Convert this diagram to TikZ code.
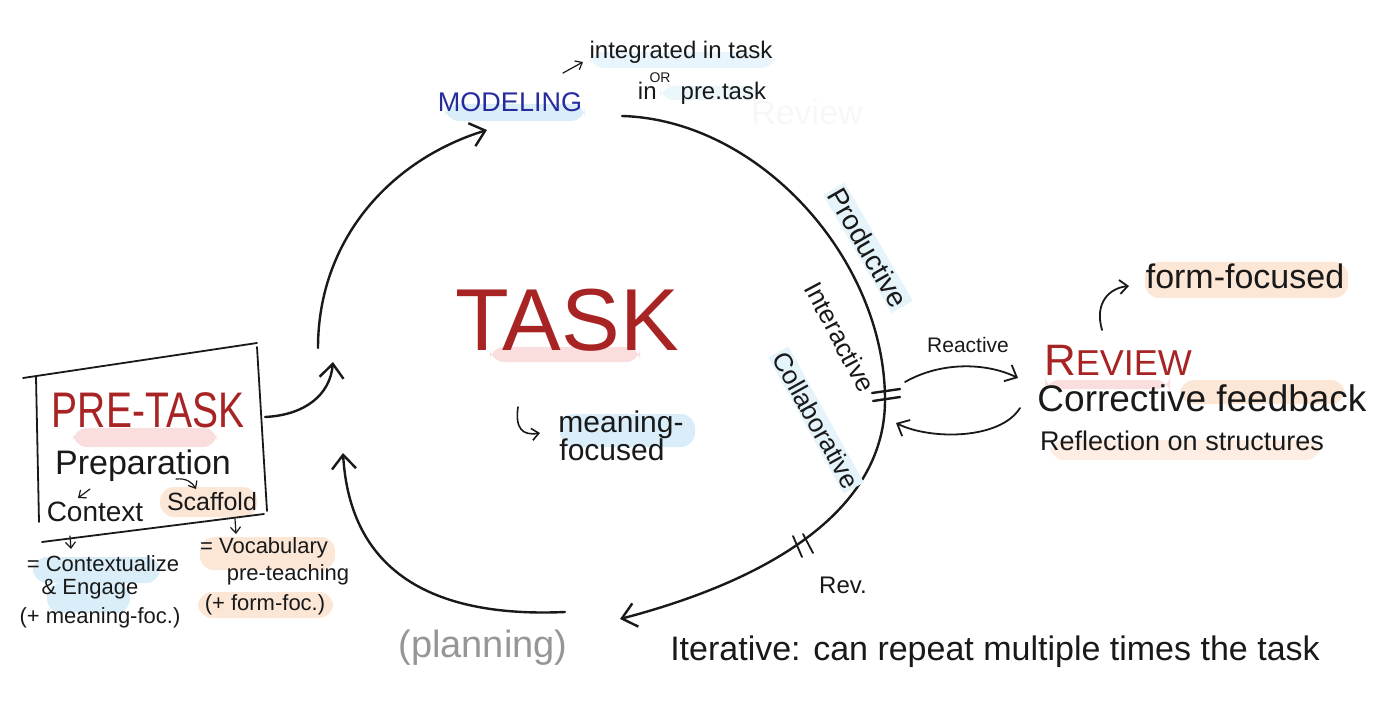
\documentclass[tikz,border=0pt]{standalone}
\usepackage{graphicx}
\usepackage{fontspec}
\setmainfont{Liberation Sans}
\usetikzlibrary{arrows.meta}
\definecolor{taskred}{RGB}{168,36,36}
\definecolor{modblue}{RGB}{38,44,158}
\definecolor{ink}{RGB}{25,25,25}
\definecolor{hlblue}{RGB}{218,238,250}
\definecolor{hlpink}{RGB}{250,222,222}
\definecolor{hlorange}{RGB}{252,230,214}
\definecolor{plangray}{RGB}{150,150,150}
\newcommand\fsz[1]{\fontsize{#1}{#1}\selectfont}
\begin{document}
\begin{tikzpicture}[x=0.5pt,y=-0.5pt,
  txt/.style={inner sep=0pt, anchor=center, text=ink},
  arcline/.style={line width=1.2pt, line cap=round, draw=ink},
  bigtip/.style={-{Straight Barb[length=7pt,width=12pt,line width=1.2pt]}},
  smalltip/.style={-{Straight Barb[length=3pt,width=5pt,line width=0.6pt]}},
  thinline/.style={line width=0.6pt, line cap=round, draw=ink},
  boxline/.style={line width=0.9pt, line cap=round, draw=ink},
  hl/.style={rounded corners=7pt, draw=none}]
\useasboundingbox (0,0) rectangle (1400,716);

% ---------- highlights ----------
\fill[hl, hlblue] (445,104) rectangle (585,121);
\fill[hl, hlblue!60] (590,52) rectangle (775,68);
\fill[hl, hlblue!50] (660,86) rectangle (760,100);
\fill[hl, hlpink] (490,347) rectangle (640,362);
\fill[hl, hlblue] (560,414) rectangle (695,447);
\fill[hl, hlpink] (1045,380) rectangle (1170,389);
\fill[hl, hlorange] (1145,262) rectangle (1348,298);
\fill[hl, hlorange] (1180,380) rectangle (1345,404);
\fill[hl, hlorange!70] (1050,440) rectangle (1320,460);
\fill[hl, hlpink] (73,428) rectangle (217,447);
\fill[hl, hlorange] (160,487) rectangle (257,517);
\fill[hl, hlblue] (33,557) rectangle (160,583);
\fill[hl, hlblue] (47,583) rectangle (130,613);
\fill[hl, hlorange] (200,537) rectangle (335,570);
\fill[hl, hlorange] (198,592) rectangle (333,618);

% ---------- ghost text ----------
\node[txt, text=black!3, font=\fsz{17}] (ghost) at (807,112) {Review};

% ---------- cycle coordinates ----------
\coordinate (aS) at (318,348);
\coordinate (aE) at (487,130);
\coordinate (bS) at (622,116);
\coordinate (bM) at (885,400);
\coordinate (bE) at (620,619);
\coordinate (cS) at (565,612);
\coordinate (cE) at (343,453);
\coordinate (pS) at (265,417);
\coordinate (pE) at (333,362);

% ---------- cycle arcs ----------
\draw[arcline, bigtip] (aS) .. controls (318,240) and (390,160) .. (aE);
\draw[arcline] (bS) .. controls (760,120) and (885,260) .. (bM);
\draw[arcline, bigtip] (bM) .. controls (885,520) and (750,585) .. (bE);
\draw[arcline, bigtip] (cS) .. controls (430,618) and (350,570) .. (cE);
\draw[arcline, bigtip] (pS) .. controls (305,415) and (330,395) .. (pE);

% double ticks
\coordinate (t1a) at (872,393); \coordinate (t1b) at (900,389);
\coordinate (t2a) at (873,401); \coordinate (t2b) at (900,397);
\draw[arcline] (t1a) -- (t1b);
\draw[arcline] (t2a) -- (t2b);
\coordinate (t3a) at (793,536); \coordinate (t3b) at (802,557);
\coordinate (t4a) at (803,534); \coordinate (t4b) at (813,553);
\draw[thinline, line width=0.9pt] (t3a) -- (t3b);
\draw[thinline, line width=0.9pt] (t4a) -- (t4b);

% ---------- top: modeling ----------
\node[txt, text=modblue, font=\fsz{13.5}] (modeling) at (510,102) {MODELING};
\node[txt, font=\fsz{12}] (integ) at (681,52) {integrated in task};
\node[txt, font=\fsz{7}] (orw) at (660,78) {OR};
\node[txt, font=\fsz{12}] (inpre) at (702,93) {in\hspace{1em}pre.task};
\coordinate (mA) at (563,73);
\coordinate (mB) at (583,62);
\draw[thinline, smalltip] (mA) -- (mB);

% ---------- centre: task ----------
\node[txt, text=taskred, font=\fsz{44}] (task) at (567,320) {TASK};
\node[txt, font=\fsz{15}] (meaning) at (621,425) {meaning-};
\node[txt, font=\fsz{15}] (focused) at (612,450) {focused};
\coordinate (hA) at (518,407);
\coordinate (hB) at (540,433);
\draw[thinline, line width=0.8pt, -{Straight Barb[length=3.5pt,width=6pt,line width=0.8pt]}] (hA) .. controls (515,428) and (522,436) .. (hB);

% ---------- arc labels ----------
\node[txt, font=\fsz{14}, rotate=-60, fill=hlblue!70, inner sep=1pt] (productive) at (868,248) {Productive};
\node[txt, font=\fsz{13}, rotate=-62] (interactive) at (840,337) {Interactive};
\node[txt, font=\fsz{13}, rotate=-61, fill=hlblue!70, inner sep=1pt] (collab) at (816,420) {Collaborative};
\node[txt, font=\fsz{12}] (rev) at (843,585) {Rev.};

% ---------- review ----------
\node[txt, font=\fsz{10.5}] (reactive) at (968,345) {Reactive};
\node[txt, text=taskred, font=\fsz{18}] (review) at (1118,360) {{\fsz{22}R}EVIEW};
\node[txt, font=\fsz{17}] (formf) at (1245,276) {form-focused};
\node[txt, font=\fsz{18.5}] (corr) at (1202,398) {Corrective feedback};
\node[txt, font=\fsz{13.5}] (refl) at (1182,441) {Reflection on structures};
\coordinate (rA) at (905,382);
\coordinate (rB) at (1018,378);
\coordinate (rC) at (1020,408);
\coordinate (rD) at (896,423);
\draw[arcline, line width=0.9pt, -{Straight Barb[length=5pt,width=9pt,line width=0.9pt]}] (rA) .. controls (940,362) and (985,362) .. (rB);
\draw[arcline, line width=0.9pt, -{Straight Barb[length=5pt,width=9pt,line width=0.9pt]}] (rC) .. controls (1000,440) and (930,440) .. (rD);
\coordinate (fA) at (1102,330);
\coordinate (fB) at (1129,286);
\draw[arcline, line width=0.9pt, -{Straight Barb[length=4pt,width=7pt,line width=0.9pt]}] (fA) .. controls (1094,302) and (1110,288) .. (fB);

% ---------- pre-task box ----------
\coordinate (bx1) at (23,378);  \coordinate (bx2) at (257,343);
\coordinate (bx3) at (257,347); \coordinate (bx4) at (267,511);
\coordinate (bx5) at (42,542);  \coordinate (bx6) at (264,514);
\coordinate (bx7) at (36,377);  \coordinate (bx8) at (39,522);
\draw[boxline] (bx1) -- (bx2);
\draw[boxline] (bx3) -- (bx4);
\draw[boxline] (bx5) -- (bx6);
\draw[boxline] (bx7) -- (bx8);

\node[txt, text=taskred, font=\fsz{25}] (pretask) at (148,410) {\scalebox{0.78}[1]{PRE-TASK}};
\node[txt, font=\fsz{17}] (prep) at (143,466) {Preparation};
\node[txt, font=\fsz{14}] (context) at (95,512) {Context};
\node[txt, font=\fsz{12.5}] (scaffold) at (212,502) {Scaffold};
\coordinate (pa1) at (90,489);  \coordinate (pa2) at (78,498);
\coordinate (pa3) at (176,479); \coordinate (pa4) at (196,489);
\draw[thinline, smalltip] (pa1) -- (pa2);
\draw[thinline, smalltip] (pa3) .. controls (186,478) and (192,482) .. (pa4);
\coordinate (da1) at (70,536);  \coordinate (da2) at (71,549);
\coordinate (da3) at (235,519); \coordinate (da4) at (236,534);
\draw[thinline, smalltip] (da1) -- (da2);
\draw[thinline, smalltip] (da3) -- (da4);

\node[txt, font=\fsz{11}] (contx) at (103,564) {= Contextualize};
\node[txt, font=\fsz{11}] (engage) at (90,589) {\& Engage};
\node[txt, font=\fsz{11}] (meanfoc) at (100,618) {(+ meaning-foc.)};
\node[txt, font=\fsz{11}] (vocab) at (264,548) {= Vocabulary};
\node[txt, font=\fsz{11}] (preteach) at (288,575) {pre-teaching};
\node[txt, font=\fsz{11}] (formfoc) at (265,605) {(+ form-foc.)};

% ---------- bottom ----------
\node[txt, text=plangray, font=\fsz{19}] (planning) at (483,648) {(planning)};
\node[txt, font=\fsz{17}] (iter) at (995,652) {Iterative: can repeat multiple times the task};
\end{tikzpicture}
\end{document}
